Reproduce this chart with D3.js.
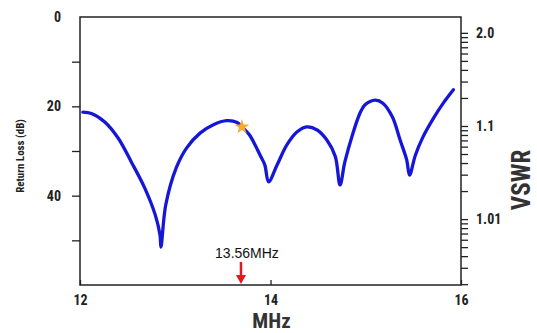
<!DOCTYPE html>
<html>
<head>
<meta charset="utf-8">
<script src="https://cdn.jsdelivr.net/npm/d3@7"></script>
<style>
  html, body { margin: 0; padding: 0; background: #fff; }
  svg { display: block; }
</style>
</head>
<body>
<svg id="chart" width="537" height="333"></svg>
<script>
// return loss curve
const freqMHz = [12.03, 12.12, 12.26, 12.40, 12.54, 12.68, 12.79, 12.84, 12.85, 12.90, 13.01, 13.12,
  13.26, 13.40, 13.54, 13.65, 13.70, 13.78, 13.89, 13.94, 13.98, 14.07, 14.17, 14.28, 14.38, 14.49,
  14.59, 14.68, 14.73, 14.78, 14.86, 14.94, 14.99, 15.10, 15.18, 15.28, 15.36, 15.43, 15.46, 15.52,
  15.60, 15.71, 15.81, 15.92];
const returnLossDb = [21.3, 21.6, 23.5, 27.1, 32.5, 38.3, 44.3, 48.8, 51.5, 42.1, 33.8, 29.3,
  26.0, 24.1, 23.2, 23.6, 24.6, 26.4, 30.9, 33.1, 36.9, 33.1, 28.7, 25.7, 24.6, 25.3,
  27.5, 31.2, 37.6, 32.5, 26.4, 21.5, 19.7, 18.6, 19.3, 22.4, 27.5, 32.0, 35.4, 31.0,
  26.9, 22.7, 19.4, 16.3];

const xTicks = [12, 14, 16];
const rlTicks = [0, 10, 20, 30, 40, 50];
const rlLabelled = [0, 20, 40];
const vswrLabels = ['2.0', '1.1', '1.01'];

const starFreq = 13.70;
const starRl = 24.6;
const arrowFreq = 13.69;
const arrowText = '13.56MHz';

const svg = d3.select('#chart');
const plotL = 80, plotR = 461, plotT = 17, plotB = 285;
const condensed = '"Liberation Sans Narrow", "Roboto Condensed", "Liberation Sans", sans-serif';

const x = d3.scaleLinear().domain([12, 16]).range([plotL, plotR]);
const y = d3.scaleLinear().domain([0, 60]).range([plotT, plotB]);
// right axis: log of (VSWR - 1)
const yv = d3.scaleLog().domain([1.48, 0.00196]).range([plotT, plotB]);

// x axis
const gx = svg.append('g')
    .attr('transform', `translate(0,${plotB})`)
    .call(d3.axisBottom(x).tickValues(xTicks).tickFormat(d3.format('d'))
        .tickSizeInner(-5).tickSizeOuter(0).tickPadding(10));

// left axis
const gy = svg.append('g')
    .attr('transform', `translate(${plotL},0)`)
    .call(d3.axisLeft(y).tickValues(rlTicks).tickSizeInner(8).tickSizeOuter(0).tickPadding(11)
        .tickFormat(d => rlLabelled.includes(d) ? d : ''));
gy.selectAll('.tick line').filter(d => d === 0).remove();

// right axis
const vTicks = yv.ticks(30).filter(v => v <= 1.0001 && v >= 0.002);
const gr = svg.append('g')
    .attr('transform', `translate(${plotR},0)`)
    .call(d3.axisRight(yv).tickValues(vTicks).tickSizeInner(7).tickSizeOuter(0).tickPadding(8)
        .tickFormat(v => {
            const e = Math.log10(v);
            const i = Math.round(-e);
            return Math.abs(e + i) < 1e-6 && i < vswrLabels.length ? vswrLabels[i] : '';
        }));

[gx, gy, gr].forEach(g => {
    g.select('.domain').remove();
    g.selectAll('.tick line').attr('stroke', '#222').attr('stroke-width', 1.3);
    g.selectAll('.tick text')
        .attr('fill', '#222')
        .style('font-family', condensed)
        .style('font-weight', 'bold')
        .style('font-size', '14px');
});

// frame
svg.append('rect')
    .attr('x', plotL).attr('y', plotT)
    .attr('width', plotR - plotL).attr('height', plotB - plotT)
    .attr('fill', 'none')
    .attr('stroke', '#222')
    .attr('stroke-width', 1.5);

// curve
const line = d3.line()
    .x((d, i) => x(freqMHz[i]))
    .y(d => y(d))
    .curve(d3.curveCatmullRom.alpha(0.5));

svg.append('path')
    .datum(returnLossDb)
    .attr('d', line)
    .attr('fill', 'none')
    .attr('stroke', '#1616d8')
    .attr('stroke-width', 3.3)
    .attr('stroke-linejoin', 'round')
    .attr('stroke-linecap', 'round');

// star marker
svg.append('path')
    .attr('d', d3.symbol().type(d3.symbolStar).size(70)())
    .attr('transform', `translate(${x(starFreq)},${y(starRl)})`)
    .attr('fill', '#f7aa2c');

// 13.56 MHz arrow
const ax = x(arrowFreq);
svg.append('line')
    .attr('x1', ax).attr('x2', ax)
    .attr('y1', plotB - 23).attr('y2', plotB - 8)
    .attr('stroke', '#e5161c')
    .attr('stroke-width', 2.5);
svg.append('path')
    .attr('d', `M${ax - 5},${plotB - 10}L${ax + 5},${plotB - 10}L${ax},${plotB - 1}Z`)
    .attr('fill', '#e5161c');
svg.append('text')
    .attr('x', ax + 6)
    .attr('y', plotB - 27)
    .attr('text-anchor', 'middle')
    .style('font-family', '"Liberation Sans", Arial, sans-serif')
    .style('font-size', '14px')
    .attr('fill', '#111')
    .text(arrowText);

// axis titles
svg.append('text')
    .attr('x', (plotL + plotR) / 2 + 1)
    .attr('y', 328)
    .attr('text-anchor', 'middle')
    .style('font-family', condensed)
    .style('font-weight', 'bold')
    .style('font-size', '21px')
    .attr('fill', '#333')
    .text('MHz');

svg.append('text')
    .attr('transform', 'translate(24,156) rotate(-90)')
    .attr('text-anchor', 'middle')
    .style('font-family', condensed)
    .style('font-weight', 'bold')
    .style('font-size', '11px')
    .attr('fill', '#222')
    .text('Return Loss (dB)');

svg.append('text')
    .attr('transform', 'translate(530,180) rotate(-90)')
    .attr('text-anchor', 'middle')
    .style('font-family', condensed)
    .style('font-weight', 'bold')
    .style('font-size', '25px')
    .attr('fill', '#333')
    .text('VSWR');
</script>
</body>
</html>
